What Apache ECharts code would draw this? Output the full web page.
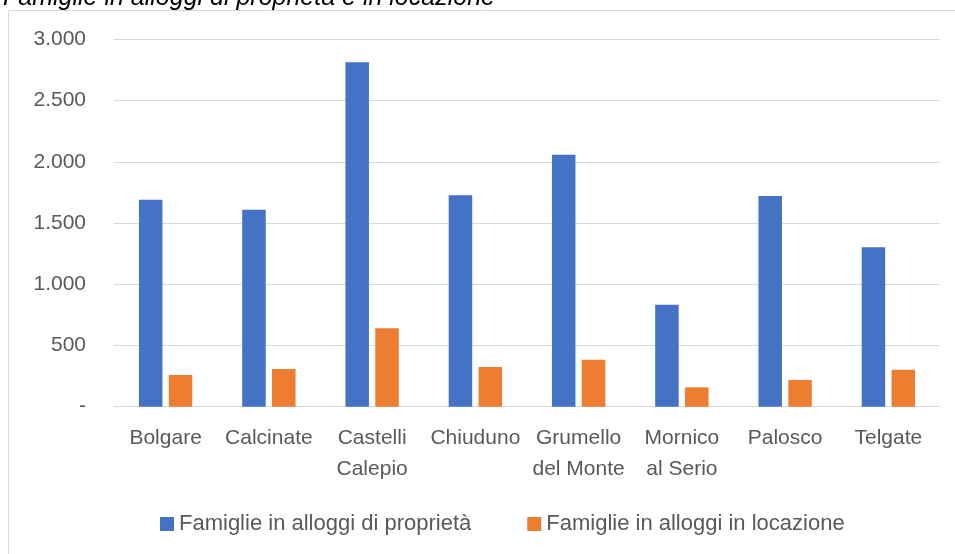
<!DOCTYPE html>
<html>
<head>
<meta charset="utf-8">
<script src="https://cdn.jsdelivr.net/npm/echarts@6/dist/echarts.min.js"></script>
<style>
  html, body { margin: 0; padding: 0; background: #fff; }
  #chart { width: 955px; height: 554px; }
</style>
</head>
<body>
<div id="chart"></div>
<script>
// dati
var comuni = ['Bolgare', 'Calcinate', 'Castelli\nCalepio', 'Chiuduno', 'Grumello\ndel Monte', 'Mornico\nal Serio', 'Palosco', 'Telgate'];
var proprieta = [1690, 1610, 2815, 1727, 2059, 833, 1721, 1302];
var locazione = [259, 308, 640, 324, 384, 158, 218, 302];
var nomiSerie = ['Famiglie in alloggi di proprietà', 'Famiglie in alloggi in locazione'];
var titolo = 'Famiglie in alloggi di proprietà e in locazione';

var font = '"Liberation Sans", Arial, sans-serif';
var grigio = '#595959';

var myChart = echarts.init(document.getElementById('chart'));

// formato italiano con punto delle migliaia, zero come trattino
function formatta(v) {
    if (v === 0) return '-';
    return String(v).replace(/\B(?=(\d{3})+(?!\d))/g, '.');
}

var option = {
    animation: false,
    backgroundColor: '#fff',
    title: {
        text: titolo,
        left: -2,
        top: -19,
        textStyle: { fontFamily: font, fontStyle: 'italic', fontWeight: 'normal', fontSize: 25, color: '#000' }
    },
    graphic: [{
        type: 'rect',
        shape: { x: 8.5, y: 10.5, width: 960, height: 600 },
        style: { fill: 'none', stroke: '#d9d9d9', lineWidth: 1 },
        silent: true,
        z: -1
    }],
    legend: {
        data: nomiSerie,
        left: 155,
        top: 508,
        icon: 'rect',
        itemWidth: 14,
        itemHeight: 14,
        itemGap: 56,
        textStyle: { fontFamily: font, fontSize: 22, color: grigio }
    },
    grid: {
        left: 114,
        right: 15,
        top: 39.5,
        bottom: 147.3
    },
    xAxis: {
        type: 'category',
        data: comuni,
        axisLine: { lineStyle: { color: '#d9d9d9', width: 1 } },
        axisTick: { show: false },
        axisLabel: {
            fontFamily: font,
            fontSize: 21,
            lineHeight: 31,
            color: grigio,
            margin: 16,
            interval: 0
        }
    },
    yAxis: {
        type: 'value',
        min: 0,
        max: 3000,
        interval: 500,
        axisLine: { show: false },
        axisTick: { show: false },
        splitLine: { lineStyle: { color: '#d9d9d9', width: 1 } },
        axisLabel: {
            fontFamily: font,
            fontSize: 21,
            color: grigio,
            margin: 28,
            formatter: formatta
        }
    },
    series: [
        {
            name: nomiSerie[0],
            type: 'bar',
            data: proprieta,
            barWidth: 23.5,
            barGap: '27%',
            itemStyle: { color: '#4472C4' }
        },
        {
            name: nomiSerie[1],
            type: 'bar',
            data: locazione,
            barWidth: 23.5,
            barGap: '27%',
            itemStyle: { color: '#ED7D31' }
        }
    ]
};

myChart.setOption(option);
</script>
</body>
</html>
